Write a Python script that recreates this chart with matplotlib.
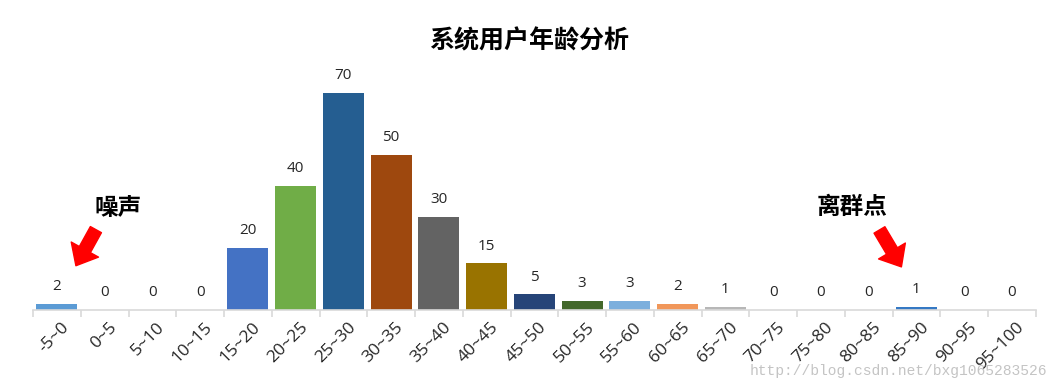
import numpy as np
import matplotlib
matplotlib.use('Agg')
import matplotlib.pyplot as plt
from matplotlib import transforms

plt.rcParams['font.family'] = ['Open Sans', 'Noto Sans CJK SC', 'DejaVu Sans']

# 年龄段和人数
age_groups = ['-5~0', '0~5', '5~10', '10~15', '15~20', '20~25', '25~30',
              '30~35', '35~40', '40~45', '45~50', '50~55', '55~60', '60~65',
              '65~70', '70~75', '75~80', '80~85', '85~90', '90~95', '95~100']
counts = [2, 0, 0, 0, 20, 40, 70, 50, 30, 15, 5, 3, 3, 2, 1, 0, 0, 0, 1, 0, 0]
# excel 默认的逐点配色
bar_colors = ['#5B9BD5', '#ED7D31', '#A5A5A5', '#FFC000', '#4472C4', '#70AD47',
              '#255E91', '#9E480E', '#636363', '#997300', '#264478', '#43682B',
              '#7CAFDD', '#F1975A', '#B7B7B7', '#FFCD33', '#698ED0', '#8CC168',
              '#3579C4', '#F4B183', '#C9C9C9']
noise_idx = 0
outlier_idx = 18

fig = plt.figure(figsize=(10.58, 3.91), dpi=100)
ax = fig.add_axes([0.0312, 0.2072, 0.9478, 0.6342])

x = np.arange(len(age_groups))
ax.bar(x, counts, width=0.86, color=bar_colors)
ax.set_xlim(-0.5, len(age_groups) - 0.5)
ax.set_ylim(0, 80)

# 数据标签
for xi, c in zip(x, counts):
    ax.annotate(str(c), (xi, c), xytext=(0, 12.5), textcoords='offset points',
                ha='center', va='center', fontsize=11, color='#262626')

# 坐标轴样式
for s in ['top', 'right', 'left']:
    ax.spines[s].set_visible(False)
ax.spines['bottom'].set_color('#D9D9D9')
ax.spines['bottom'].set_linewidth(1.2)
ax.set_yticks([])
ax.set_xticks(np.arange(len(age_groups) + 1) - 0.5, minor=True)
ax.tick_params(axis='x', which='minor', length=5, color='#D9D9D9', width=1.2)
ax.tick_params(axis='x', which='major', length=0, pad=7)
ax.set_xticks(x)
ax.set_xticklabels(age_groups, rotation=45, ha='right', rotation_mode='anchor',
                   fontsize=12.5, color='#262626')
# 标签整体稍微右移
shift = transforms.ScaledTranslation(3 / 72, 0, fig.dpi_scale_trans)
for lbl in ax.get_xticklabels():
    lbl.set_transform(lbl.get_transform() + shift)

fig.suptitle('系统用户年龄分析', x=0.5, y=0.925, fontsize=18,
             fontweight='bold', family='Noto Sans CJK SC')

# 噪声 / 离群点 标注, 箭头尖端相对柱顶偏移 (points)
arrow = dict(arrowstyle='simple,head_length=0.95,head_width=1.6,tail_width=0.65',
             fc='#FF0000', ec='#FF0000', mutation_scale=14, shrinkA=0, shrinkB=0)


def mark(idx, label, tip, tail, text_off):
    tip_tr = transforms.offset_copy(ax.transData, fig=fig, x=tip[0], y=tip[1],
                                    units='points')
    ax.annotate('', xy=(idx, counts[idx]), xycoords=tip_tr, xytext=tail,
                textcoords='offset points', arrowprops=arrow)
    ax.annotate(label, (idx, counts[idx]), xytext=text_off,
                textcoords='offset points', ha='center', va='center',
                fontsize=17, fontweight='bold', family='Noto Sans CJK SC')


mark(noise_idx, '噪声', (13.7, 27.4), (14.4, 26), (44, 69))
mark(outlier_idx, '离群点', (-10.8, 28.8), (-15.8, 26.6), (-46, 72))

fig.text(0.99, 0.052, 'http://blog.csdn.net/bxg1065283526', ha='right',
         va='center', fontsize=10.5, color='#C4C4C4', family='Liberation Mono')

plt.savefig('out.png', dpi=100)
